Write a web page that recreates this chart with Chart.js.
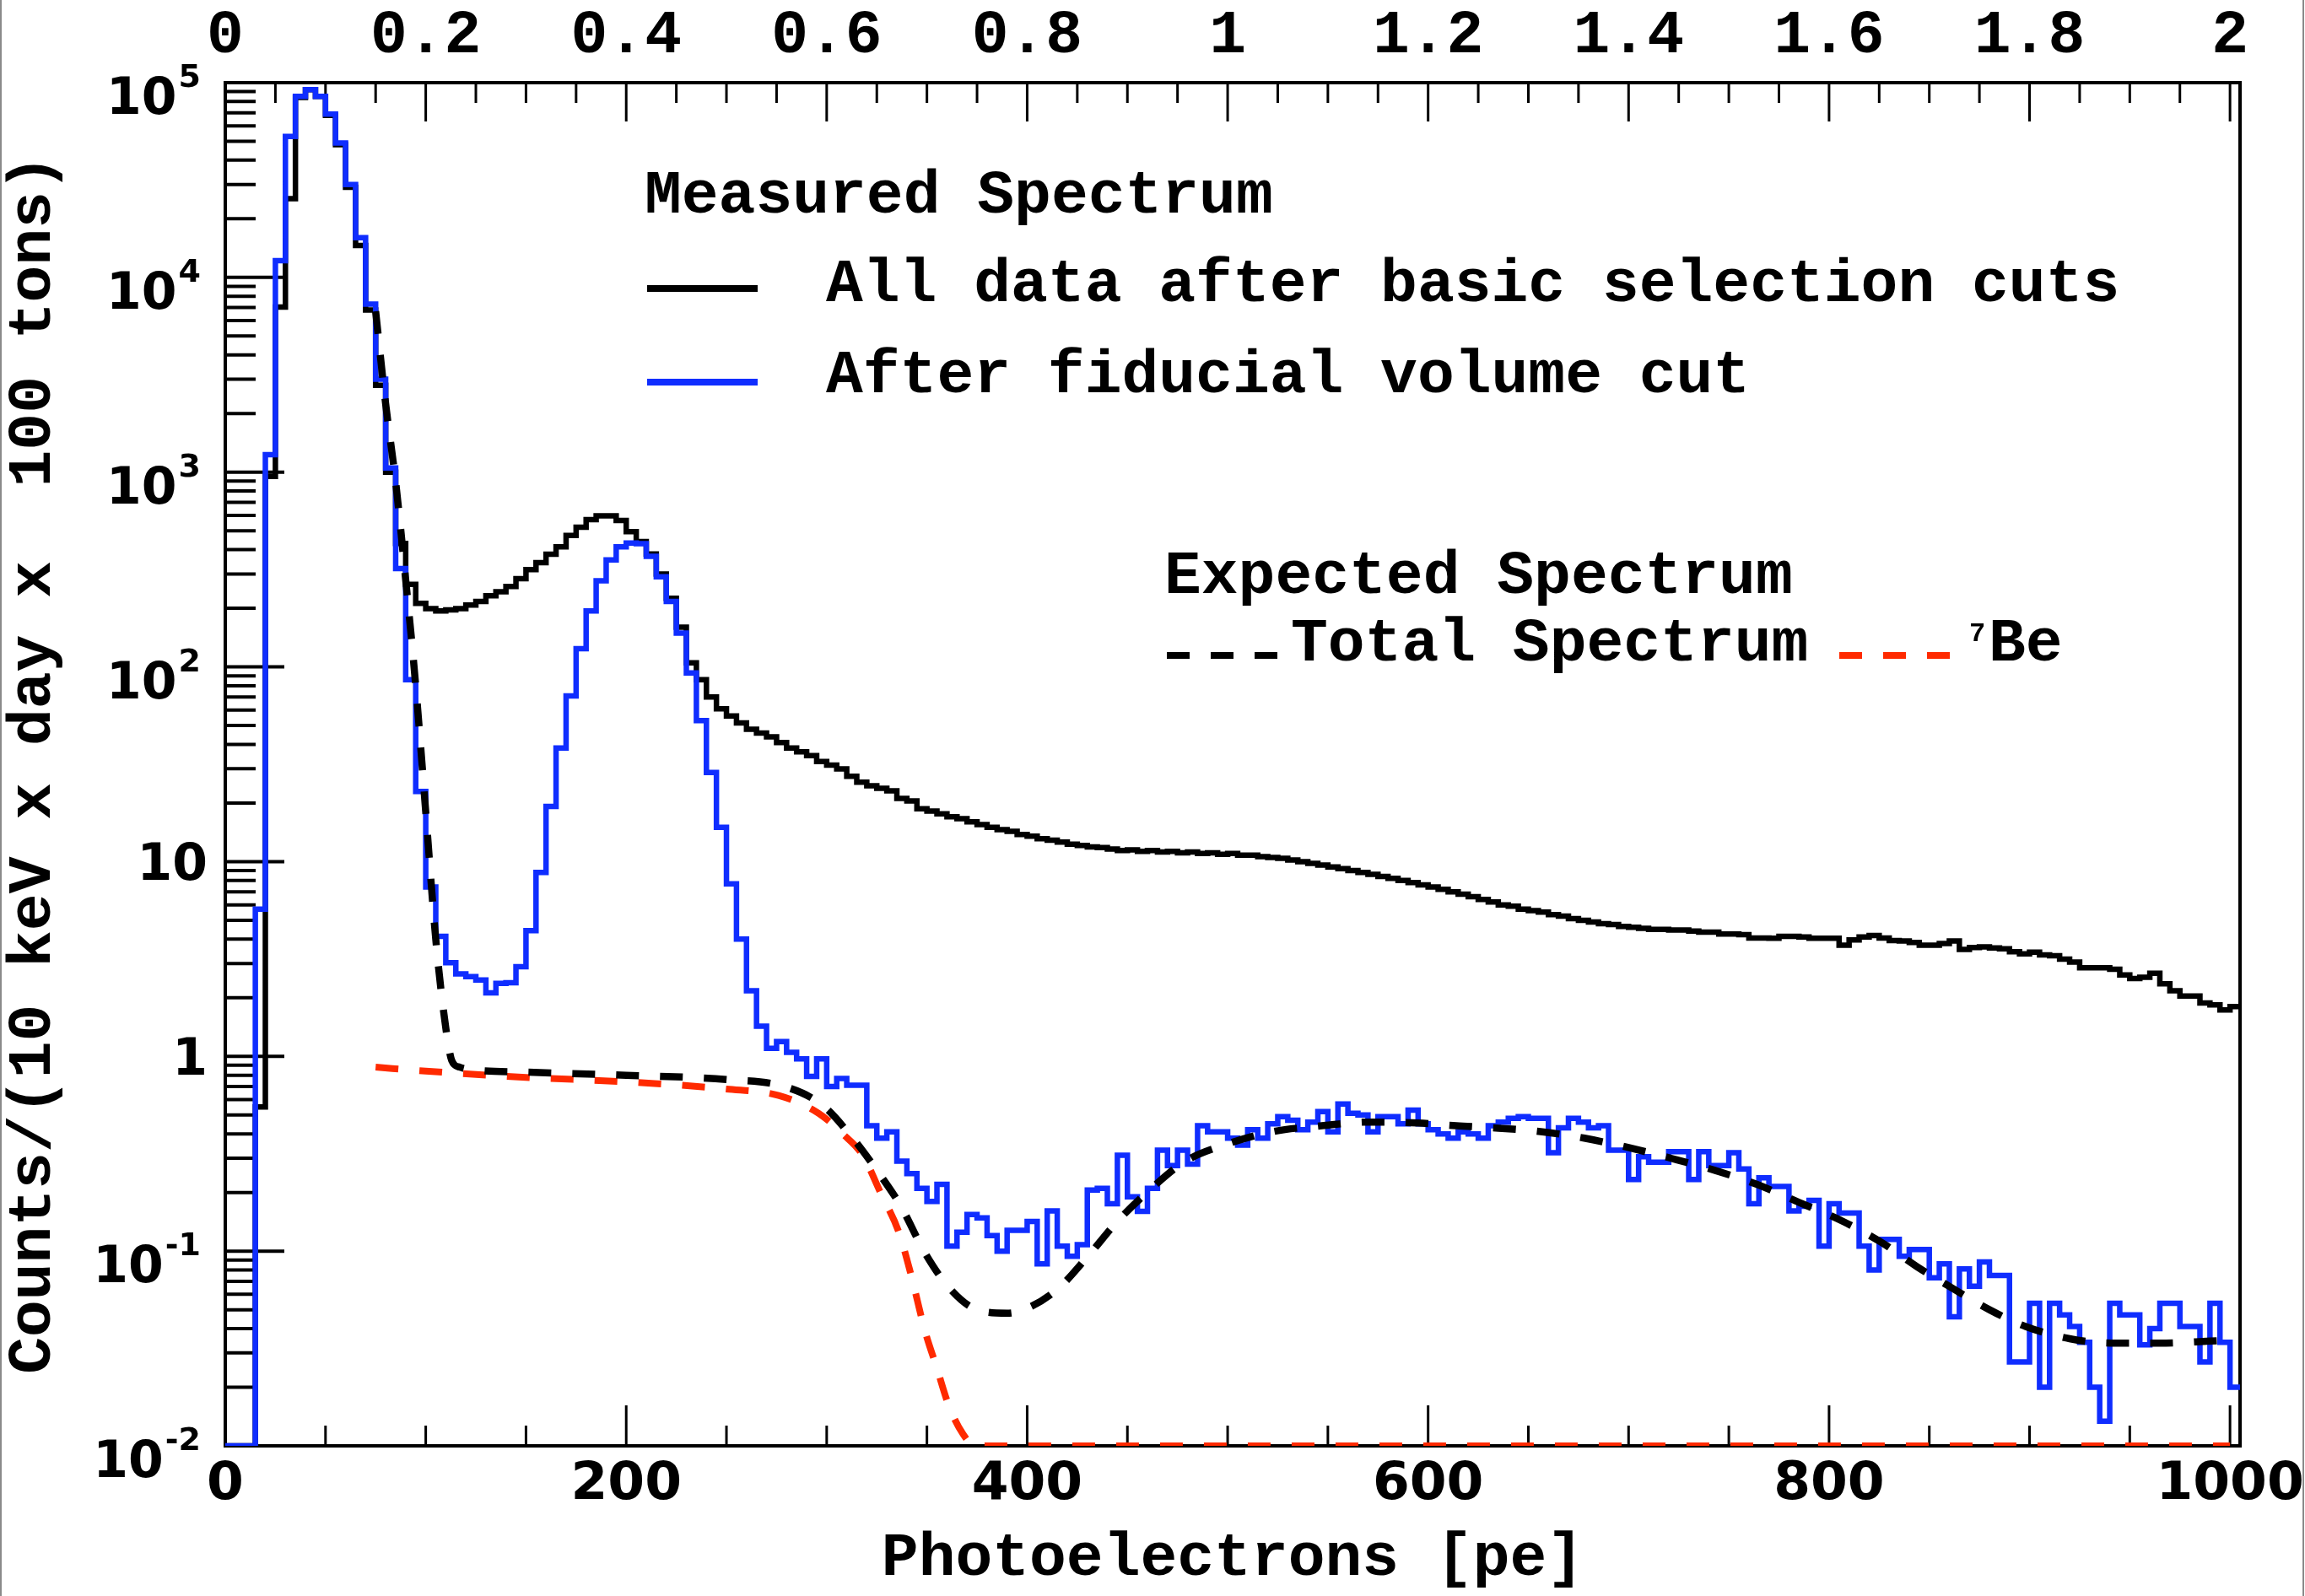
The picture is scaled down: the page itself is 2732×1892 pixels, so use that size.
<!DOCTYPE html>
<html>
<head>
<meta charset="utf-8">
<title>Photoelectron spectrum</title>
<script src="https://cdn.jsdelivr.net/npm/chart.js@4.4.1/dist/chart.umd.min.js"></script>
<style>
  html, body { margin: 0; padding: 0; background: #fff; }
  canvas { display: block; }
</style>
</head>
<body>
<canvas id="spectrum" width="2732" height="1892"></canvas>
<script>
// histograms use 5 pe bins starting at 0 pe
const binWidth = 5;
const xMax = 1005;

// All data after basic selection cuts (black), one value per bin
const allDataCounts = [
  0.01, 0.01, 0.01, 0.55, 950, 7050, 25400, 84000, 92000, 85000,
  68000, 48000, 29000, 14600, 6800, 2790, 1000, 430, 265, 212,
  199, 194, 196, 199, 208, 217, 232, 243, 259, 284,
  316, 343, 379, 414, 473, 522, 570, 597, 597, 565,
  495, 440, 380, 300, 225, 160, 105, 86, 70, 61,
  56, 51.5, 47.8, 45.7, 43.7, 40.9, 38.3, 36.6, 35, 32.7,
  31.3, 29.9, 27.4, 25.6, 24.5, 23.8, 23.1, 21.1, 20.5, 18.7,
  18.2, 17.6, 17.0, 16.6, 16.0, 15.5, 15.0, 14.6, 14.3, 13.8,
  13.5, 13.1, 12.9, 12.6, 12.3, 12.1, 11.9, 11.8, 11.6, 11.4,
  11.5, 11.3, 11.4, 11.2, 11.3, 11.1, 11.2, 11.0, 11.1, 10.9,
  11.0, 10.8, 10.8, 10.6, 10.5, 10.4, 10.2, 10.0, 9.8, 9.6,
  9.4, 9.2, 9.0, 8.8, 8.6, 8.4, 8.2, 8.0, 7.8, 7.6,
  7.4, 7.2, 7.0, 6.8, 6.6, 6.4, 6.2, 6.0, 5.9, 5.7,
  5.6, 5.5, 5.35, 5.25, 5.1, 5.0, 4.9, 4.8, 4.75, 4.65,
  4.6, 4.55, 4.49, 4.49, 4.45, 4.45, 4.40, 4.35, 4.35, 4.25,
  4.25, 4.22, 4.05, 4.05, 4.04, 4.13, 4.13, 4.10, 4.04, 4.04,
  4.04, 3.72, 3.96, 4.10, 4.18, 4.05, 3.93, 3.91, 3.85, 3.72,
  3.72, 3.80, 3.91, 3.54, 3.62, 3.65, 3.60, 3.57, 3.45, 3.36,
  3.43, 3.32, 3.29, 3.16, 3.05, 2.85, 2.85, 2.85, 2.80, 2.62,
  2.51, 2.55, 2.67, 2.36, 2.17, 2.04, 2.04, 1.88, 1.84, 1.73,
  1.80
];

// After fiducial volume cut (blue), one value per bin
const fiducialCounts = [
  0.01, 0.01, 0.01, 5.7, 1230, 12200, 53000, 85000, 92000, 85000,
  69000, 49000, 30000, 16000, 7300, 3000, 1050, 320, 86, 22.9,
  7.4, 4.13, 3.03, 2.65, 2.57, 2.47, 2.12, 2.37, 2.39, 2.89,
  4.42, 8.8, 19.2, 38.3, 71, 124, 194, 277, 354, 414,
  433, 429, 370, 290, 217, 149, 93, 53, 28.7, 15,
  7.7, 4.0, 2.17, 1.43, 1.10, 1.19, 1.05, 0.97, 0.79, 0.97,
  0.70, 0.77, 0.71, 0.71, 0.44, 0.38, 0.41, 0.29, 0.25, 0.21,
  0.18, 0.22, 0.106, 0.125, 0.154, 0.148, 0.120, 0.100, 0.128, 0.128,
  0.142, 0.086, 0.161, 0.106, 0.094, 0.108, 0.206, 0.21, 0.175, 0.311,
  0.19, 0.16, 0.21, 0.33, 0.275, 0.33, 0.28, 0.44, 0.41, 0.41,
  0.38, 0.35, 0.42, 0.38, 0.45, 0.49, 0.47, 0.42, 0.46, 0.52,
  0.41, 0.57, 0.51, 0.50, 0.41, 0.49, 0.49, 0.45, 0.53, 0.45,
  0.42, 0.40, 0.38, 0.41, 0.40, 0.38, 0.44, 0.46, 0.48, 0.49,
  0.48, 0.48, 0.32, 0.43, 0.48, 0.46, 0.43, 0.44, 0.33, 0.33,
  0.233, 0.305, 0.286, 0.286, 0.324, 0.324, 0.233, 0.324, 0.275, 0.275,
  0.32, 0.264, 0.175, 0.238, 0.215, 0.215, 0.161, 0.17, 0.182, 0.106,
  0.175, 0.157, 0.157, 0.106, 0.080, 0.115, 0.115, 0.094, 0.102, 0.102,
  0.073, 0.086, 0.046, 0.081, 0.066, 0.088, 0.075, 0.075, 0.027, 0.027,
  0.054, 0.020, 0.054, 0.047, 0.041, 0.034, 0.020, 0.0134, 0.054, 0.047,
  0.047, 0.033, 0.040, 0.054, 0.054, 0.041, 0.041, 0.027, 0.054, 0.034,
  0.020
];

// Expected total spectrum (black dashed)
const totalPe = [75, 80, 85, 90, 95, 100, 105, 110, 113, 117, 125, 150, 200, 250, 279, 298,
  313, 325, 337, 349, 361, 375, 390, 402, 416, 431, 445, 462, 479, 498, 522, 547, 571, 595,
  614, 632, 657, 678, 700, 721, 743, 764, 785, 807, 826, 844, 861, 880, 898, 920, 941, 965, 990, 1003];
const totalVals = [6700, 2240, 890, 280, 80, 18, 4.0, 1.4, 0.95, 0.88, 0.85, 0.83, 0.80, 0.76, 0.70, 0.56,
  0.38, 0.26, 0.17, 0.098, 0.065, 0.050, 0.048, 0.052, 0.065, 0.096, 0.142, 0.21, 0.29, 0.35, 0.41, 0.44, 0.46, 0.455,
  0.44, 0.43, 0.41, 0.38, 0.34, 0.30, 0.26, 0.22, 0.178, 0.142, 0.111, 0.083, 0.065, 0.050, 0.041, 0.0355, 0.0337, 0.0337, 0.0345, 0.035];

// Expected 7Be component (red dashed)
const be7Pe = [75, 100, 150, 200, 250, 276, 296, 308, 318, 327, 336, 342, 349, 355, 361, 368, 374, 500, 700, 1000];
const be7Vals = [0.88, 0.84, 0.78, 0.74, 0.68, 0.63, 0.51, 0.40, 0.31, 0.198, 0.125, 0.076, 0.039, 0.025, 0.016, 0.0115, 0.01, 0.01, 0.01, 0.01];

// axis ticks
const xTickValues = [0, 200, 400, 600, 800, 1000];
const topTickValues = [0, 0.2, 0.4, 0.6, 0.8, 1, 1.2, 1.4, 1.6, 1.8, 2];
const topTickLabels = ['0', '0.2', '0.4', '0.6', '0.8', '1', '1.2', '1.4', '1.6', '1.8', '2'];
const yTickValues = [1e5, 1e4, 1e3, 100, 10, 1, 0.1, 0.01];
const yTickBase = ['10', '10', '10', '10', '10', '1', '10', '10'];
const yTickExp = ['5', '4', '3', '2', '', '', '-1', '-2'];

const MONO = "'Liberation Mono', 'DejaVu Sans Mono', monospace";
const SANS = "'DejaVu Sans', 'Liberation Sans', sans-serif";
const BLUE = '#0f2dff';
const RED = '#ff2a00';

function histPoints(counts) {
  const pts = counts.map((v, i) => ({ x: i * binWidth, y: v }));
  pts.push({ x: counts.length * binWidth, y: counts[counts.length - 1] });
  return pts;
}

function curvePoints(xs, ys) {
  return xs.map((x, i) => ({ x: x, y: ys[i] }));
}

// keep the plot frame where the layout puts it, labels may overhang
function fixHorizontal(height) {
  return s => {
    s.height = height;
    s.paddingLeft = 0;
    s.paddingRight = 0;
  };
}

Chart.defaults.color = '#000';
Chart.defaults.font.family = MONO;

const rootAxes = {
  id: 'rootAxes',
  beforeDraw(chart) {
    const ctx = chart.ctx;
    ctx.save();
    ctx.fillStyle = '#fff';
    ctx.fillRect(0, 0, chart.width, chart.height);
    ctx.fillStyle = '#8a8a8a';
    ctx.fillRect(0, 0, 2, chart.height);
    ctx.fillRect(chart.width - 3, 0, 2, chart.height);
    ctx.restore();
  },
  beforeDatasetsDraw(chart) {
    const { ctx, chartArea: a, scales } = chart;
    const x = scales.x, xt = scales.xTop, y = scales.y;
    const seg = (x1, y1, x2, y2) => { ctx.beginPath(); ctx.moveTo(x1, y1); ctx.lineTo(x2, y2); ctx.stroke(); };
    ctx.save();
    ctx.strokeStyle = '#000';
    ctx.lineCap = 'butt';

    ctx.lineWidth = 3;
    for (let k = 0; k <= 20; k++) {
      const px = x.getPixelForValue(k * 50);
      seg(px, a.bottom, px, a.bottom - (k % 4 === 0 ? 48 : 24));
    }
    for (let k = 0; k <= 40; k++) {
      const px = xt.getPixelForValue(k * 0.05);
      seg(px, a.top, px, a.top + (k % 4 === 0 ? 46 : 24));
    }

    ctx.lineWidth = 4;
    for (let e = -2; e < 5; e++) {
      const d = Math.pow(10, e);
      for (let m = 1; m <= 9; m++) {
        const py = y.getPixelForValue(m * d);
        seg(a.left, py, a.left + (m === 1 ? 70 : 36), py);
      }
    }

    ctx.lineWidth = 4;
    ctx.strokeRect(a.left, a.top, a.right - a.left, a.bottom - a.top);
    ctx.restore();
  },
  afterDraw(chart) {
    const { ctx, chartArea: a, scales } = chart;
    const y = scales.y;
    ctx.save();
    ctx.fillStyle = '#000';
    ctx.textAlign = 'right';
    ctx.textBaseline = 'alphabetic';
    yTickValues.forEach((v, i) => {
      const py = y.getPixelForValue(v);
      if (yTickExp[i]) {
        ctx.font = 'bold 38px ' + SANS;
        const w = ctx.measureText(yTickExp[i]).width;
        ctx.fillText(yTickExp[i], a.left - 29, py + 5);
        ctx.font = 'bold 60px ' + SANS;
        ctx.fillText(yTickBase[i], a.left - 31 - w, py + 37);
      } else {
        ctx.font = 'bold 60px ' + SANS;
        ctx.fillText(yTickBase[i], a.left - 21, py + 22);
      }
    });

    // legends
    ctx.textAlign = 'left';
    ctx.font = 'bold 73px ' + MONO;
    ctx.fillText('Measured Spectrum', 764, 252);
    ctx.fillText('All data after basic selection cuts', 979, 357);
    ctx.fillText('After fiducial volume cut', 979, 465);
    ctx.fillText('Expected Spectrum', 1380, 703);
    ctx.fillText('Total Spectrum', 1530, 783);
    ctx.fillText('Be', 2357, 783);
    ctx.font = 'bold 32px ' + MONO;
    ctx.fillText('7', 2334, 760);

    ctx.lineCap = 'butt';
    ctx.lineWidth = 8;
    ctx.strokeStyle = '#000';
    ctx.beginPath(); ctx.moveTo(767, 342); ctx.lineTo(898, 342); ctx.stroke();
    ctx.strokeStyle = BLUE;
    ctx.beginPath(); ctx.moveTo(767, 453); ctx.lineTo(898, 453); ctx.stroke();
    ctx.setLineDash([27, 25]);
    ctx.strokeStyle = '#000';
    ctx.beginPath(); ctx.moveTo(1383, 777); ctx.lineTo(1514, 777); ctx.stroke();
    ctx.strokeStyle = RED;
    ctx.beginPath(); ctx.moveTo(2180, 777); ctx.lineTo(2314, 777); ctx.stroke();
    ctx.restore();
  }
};

const ctx = document.getElementById('spectrum').getContext('2d');

new Chart(ctx, {
  type: 'line',
  data: {
    datasets: [
      {
        label: 'Total Spectrum',
        data: curvePoints(totalPe, totalVals),
        borderColor: '#000',
        borderWidth: 8.5,
        borderDash: [27, 25],
        cubicInterpolationMode: 'monotone',
        pointRadius: 0,
        fill: false,
        order: 0
      },
      {
        label: '7Be',
        data: curvePoints(be7Pe, be7Vals),
        borderColor: RED,
        borderWidth: 8,
        borderDash: [27, 25],
        cubicInterpolationMode: 'monotone',
        pointRadius: 0,
        fill: false,
        order: 1
      },
      {
        label: 'After fiducial volume cut',
        data: histPoints(fiducialCounts),
        borderColor: BLUE,
        borderWidth: 6.5,
        stepped: true,
        borderJoinStyle: 'miter',
        pointRadius: 0,
        fill: false,
        order: 2
      },
      {
        label: 'All data after basic selection cuts',
        data: histPoints(allDataCounts),
        borderColor: '#000',
        borderWidth: 6.5,
        stepped: true,
        borderJoinStyle: 'miter',
        pointRadius: 0,
        fill: false,
        order: 3
      }
    ]
  },
  options: {
    responsive: false,
    animation: false,
    devicePixelRatio: 1,
    events: [],
    layout: { padding: { left: 0, right: 77, top: 0, bottom: 0 } },
    plugins: {
      legend: { display: false },
      tooltip: { enabled: false }
    },
    scales: {
      x: {
        type: 'linear',
        position: 'bottom',
        min: 0,
        max: xMax,
        grid: { display: false, drawTicks: false, tickLength: 0 },
        border: { display: false },
        afterBuildTicks: s => { s.ticks = xTickValues.map(v => ({ value: v })); },
        afterFit: fixHorizontal(178),
        ticks: {
          autoSkip: false,
          maxRotation: 0,
          padding: 15,
          font: { family: SANS, size: 63, weight: 'bold', lineHeight: 1 },
          callback: v => String(v)
        },
        title: {
          display: true,
          text: 'Photoelectrons [pe]',
          font: { family: MONO, size: 73, weight: 'bold', lineHeight: 1 },
          padding: { top: 0, bottom: 7 }
        }
      },
      xTop: {
        type: 'linear',
        position: 'top',
        min: 0,
        max: xMax / 500,
        grid: { display: false, drawTicks: false, tickLength: 0 },
        border: { display: false },
        afterBuildTicks: s => { s.ticks = topTickValues.map(v => ({ value: v })); },
        afterFit: fixHorizontal(98),
        ticks: {
          autoSkip: false,
          maxRotation: 0,
          padding: 18,
          font: { family: MONO, size: 73, weight: 'bold', lineHeight: 1 },
          callback: (v, i) => topTickLabels[i]
        }
      },
      y: {
        type: 'logarithmic',
        position: 'left',
        min: 0.01,
        max: 1e5,
        grid: { display: false, drawTicks: false, tickLength: 0 },
        border: { display: false },
        ticks: { display: false },
        afterFit: s => { s.width = 267; },
        title: {
          display: true,
          text: 'Counts/(10 keV x day x  100 tons)',
          font: { family: MONO, size: 73, weight: 'bold', lineHeight: 1 },
          padding: { top: 4, bottom: 0 }
        }
      }
    }
  },
  plugins: [rootAxes]
});
</script>
</body>
</html>
